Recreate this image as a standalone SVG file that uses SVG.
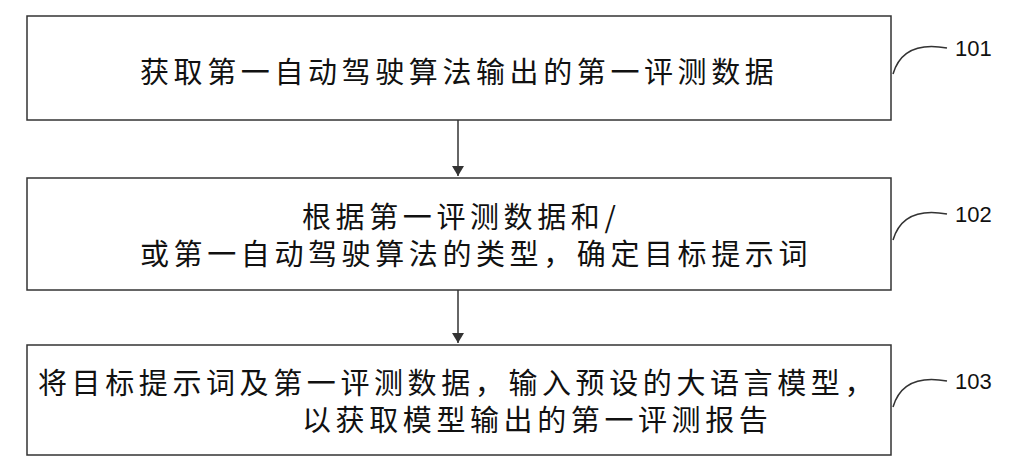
<svg xmlns="http://www.w3.org/2000/svg" width="1028" height="476" viewBox="0 0 1028 476">
<style>
.box{fill:#fff;stroke:#333;stroke-width:1.5}
.t{font-family:"Noto Sans CJK SC","Noto Sans",sans-serif;font-size:29px;fill:#111;letter-spacing:4.6px}
.l{font-family:"Liberation Sans",Arial,sans-serif;font-size:22px;fill:#111}
.c{fill:none;stroke:#333;stroke-width:1.5}
</style>
<defs><marker id="a" markerWidth="10" markerHeight="12" refX="10" refY="6" orient="auto" markerUnits="userSpaceOnUse"><path d="M0,0 L10,6 L0,12 z" fill="#333"/></marker></defs>
<rect width="1028" height="476" fill="#fff"/>
<g id="n101"><rect class="box" x="27" y="16" width="864" height="104"/><text class="t" x="140" y="83">获取第一自动驾驶算法输出的第一评测数据</text></g>
<g id="n102"><rect class="box" x="27" y="178" width="864" height="112"/><text class="t" x="302" y="228">根据第一评测数据和/</text><text class="t" x="140" y="265">或第一自动驾驶算法的类型，确定目标提示词</text></g>
<g id="n103"><rect class="box" x="27" y="345" width="864" height="110"/><text class="t" x="38" y="394">将目标提示词及第一评测数据，输入预设的大语言模型，</text><text class="t" x="302" y="431">以获取模型输出的第一评测报告</text></g>
<g id="connectors">
<line class="c" x1="458" y1="120" x2="458" y2="176" marker-end="url(#a)"/>
<line class="c" x1="458" y1="290" x2="458" y2="343" marker-end="url(#a)"/>
<path class="c" d="M893,74 Q903,40 947,48"/>
<path class="c" d="M893,240 Q903,206 947,214"/>
<path class="c" d="M893,407 Q903,373 947,381"/>
</g>
<text class="l" x="955" y="56">101</text>
<text class="l" x="955" y="222">102</text>
<text class="l" x="955" y="389">103</text>
</svg>
